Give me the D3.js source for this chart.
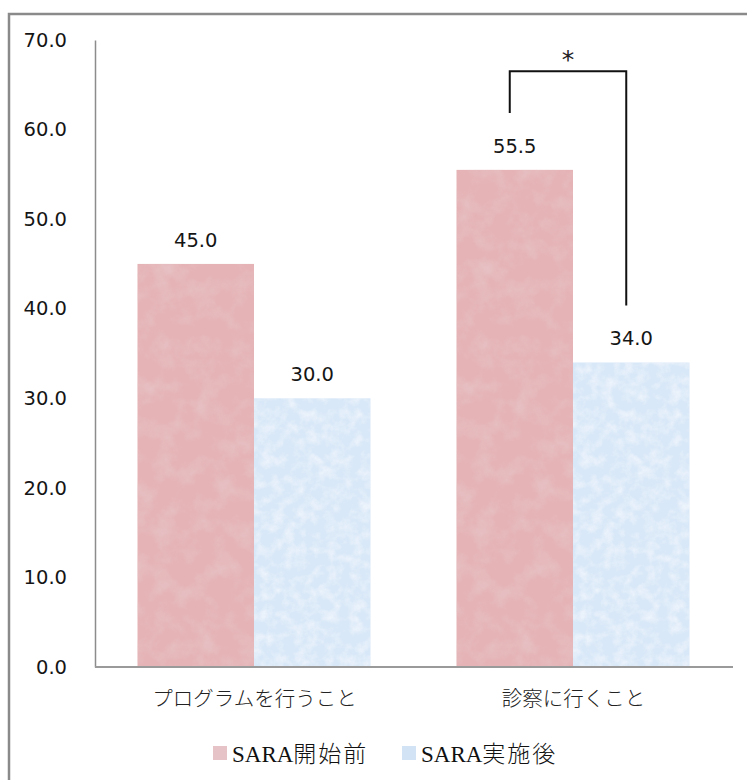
<!DOCTYPE html>
<html>
<head>
<meta charset="utf-8">
<script src="https://cdn.jsdelivr.net/npm/d3@7"></script>
<style>
  html, body { margin: 0; padding: 0; background: #fff; }
  svg { display: block; }
</style>
</head>
<body>
<script>
// Categories, series and values
const categories = ["プログラムを行うこと", "診察に行くこと"];
const seriesNames = ["SARA開始前", "SARA実施後"];
const before = [45.0, 55.5];
const after = [30.0, 34.0];
const yTicks = [0, 10, 20, 30, 40, 50, 60, 70];
// Significance bracket between the two bars of the second category
const sigCategory = "診察に行くこと";
const sigLevel = 66.5;
const sigMark = "*";

const W = 747, H = 780;
const seriesColors = ["#e5b3b6", "#d9e8f8"];
const legendColors = ["#e6c3c6", "#d3e3f6"];

const svg = d3.select("body").append("svg")
  .attr("width", W).attr("height", H);

// Paper-like texture filters for the bars
const defs = svg.append("defs");
function texture(id, seed, freq, tint, gain, offset) {
  const f = defs.append("filter").attr("id", id)
    .attr("x", 0).attr("y", 0).attr("width", 1).attr("height", 1);
  f.append("feTurbulence").attr("type", "fractalNoise")
    .attr("baseFrequency", freq).attr("numOctaves", 4).attr("seed", seed).attr("result", "noise");
  f.append("feColorMatrix").attr("in", "noise").attr("type", "matrix")
    .attr("values", `0 0 0 0 ${tint[0]}  0 0 0 0 ${tint[1]}  0 0 0 0 ${tint[2]}  ${gain} 0 0 0 ${offset}`)
    .attr("result", "shade");
  f.append("feComposite").attr("in", "shade").attr("in2", "SourceGraphic").attr("operator", "in").attr("result", "tex");
  const m = f.append("feMerge");
  m.append("feMergeNode").attr("in", "SourceGraphic");
  m.append("feMergeNode").attr("in", "tex");
}
texture("tex0", 7, 0.05, [0.80, 0.58, 0.60], 1.3, -0.55);
texture("tex1", 11, 0.09, [0.97, 0.98, 1.0], 1.2, -0.5);

// Outer frame (only its top and left edges fall inside the page)
svg.append("rect")
  .attr("x", 9).attr("y", 14).attr("width", 900).attr("height", 900)
  .attr("fill", "none").attr("stroke", "#8a8a8a").attr("stroke-width", 2.5);

const plot = { left: 95, right: 733, top: 40, bottom: 667 };

const y = d3.scaleLinear().domain([0, 70]).range([plot.bottom, plot.top]);
const x0 = d3.scaleBand().domain(categories).range([plot.left, plot.right]).padding(0);
const x1 = d3.scaleBand().domain(seriesNames).range([42.5, x0.bandwidth() - 43.5]).padding(0);

// Y axis
const yAxis = svg.append("g")
  .attr("transform", `translate(${plot.left},0)`)
  .call(d3.axisLeft(y).tickValues(yTicks).tickFormat(d3.format(".1f")).tickSize(0).tickPadding(28));
yAxis.select(".domain").attr("stroke", "#8c8c8c").attr("stroke-width", 1.5);
yAxis.selectAll("text")
  .attr("font-family", "'DejaVu Sans', Verdana, sans-serif")
  .attr("font-size", 19.5).attr("fill", "#151515");

// Bars
const rows = categories.map((c, i) => ({ category: c, values: [before[i], after[i]] }));
const groups = svg.append("g").selectAll("g").data(rows).join("g")
  .attr("transform", d => `translate(${x0(d.category)},0)`);

groups.selectAll("rect")
  .data(d => d.values.map((v, j) => ({ series: seriesNames[j], value: v, j })))
  .join("rect")
  .attr("x", d => x1(d.series))
  .attr("width", x1.bandwidth())
  .attr("y", d => y(d.value))
  .attr("height", d => y(0) - y(d.value))
  .attr("fill", d => seriesColors[d.j])
  .attr("filter", d => `url(#tex${d.j})`);

// Value labels
groups.selectAll("text.val")
  .data(d => d.values.map((v, j) => ({ series: seriesNames[j], value: v })))
  .join("text").attr("class", "val")
  .attr("x", d => x1(d.series) + x1.bandwidth() / 2)
  .attr("y", d => y(d.value) - 17)
  .attr("text-anchor", "middle")
  .attr("font-family", "'DejaVu Sans', Verdana, sans-serif")
  .attr("font-size", 19.5).attr("fill", "#151515")
  .text(d => d3.format(".1f")(d.value));

// X axis baseline
svg.append("line")
  .attr("x1", plot.left).attr("x2", plot.right)
  .attr("y1", y(0)).attr("y2", y(0))
  .attr("stroke", "#9a9a9a").attr("stroke-width", 1.8);

// Category labels
svg.append("g").selectAll("text").data(categories).join("text")
  .attr("x", d => x0(d) + x0.bandwidth() / 2)
  .attr("y", 699)
  .attr("dy", "0.35em")
  .attr("text-anchor", "middle")
  .attr("font-family", "'Noto Sans CJK JP', sans-serif")
  .attr("font-weight", 300)
  .attr("font-size", 20.5).attr("fill", "#222")
  .text(d => d);

// Significance bracket
const si = categories.indexOf(sigCategory);
const bx0 = x0(sigCategory) + x1(seriesNames[0]) + x1.bandwidth() / 2 - 5;
const bx1 = x0(sigCategory) + x1(seriesNames[1]) + x1.bandwidth() / 2 - 5;
const legGap = 57;
svg.append("path")
  .attr("d", `M${bx0},${y(before[si]) - legGap} V${y(sigLevel)} H${bx1} V${y(after[si]) - legGap}`)
  .attr("fill", "none").attr("stroke", "#111").attr("stroke-width", 2);
svg.append("text")
  .attr("x", (bx0 + bx1) / 2).attr("y", y(sigLevel) - 3)
  .attr("text-anchor", "middle")
  .attr("font-family", "'DejaVu Sans', sans-serif")
  .attr("font-size", 25).attr("fill", "#222")
  .text(sigMark);

// Legend: Latin part in serif, Japanese part in a light gothic face
const legendX = [213, 402];
const lg = svg.append("g").selectAll("g").data(seriesNames).join("g")
  .attr("transform", (d, i) => `translate(${legendX[i]},746)`);
lg.append("rect").attr("width", 14).attr("height", 14)
  .attr("fill", (d, i) => legendColors[i]);
const lt = lg.append("text")
  .attr("x", 19).attr("y", 16)
  .attr("fill", "#111");
lt.append("tspan")
  .attr("font-family", "'Liberation Serif', serif")
  .attr("font-size", 23)
  .text(d => d.match(/^[A-Za-z]+/)[0]);
lt.append("tspan")
  .attr("font-family", "'Noto Sans CJK JP', sans-serif")
  .attr("font-weight", 300)
  .attr("font-size", 23)
  .attr("letter-spacing", 2)
  .text(d => d.replace(/^[A-Za-z]+/, ""));
</script>
</body>
</html>
